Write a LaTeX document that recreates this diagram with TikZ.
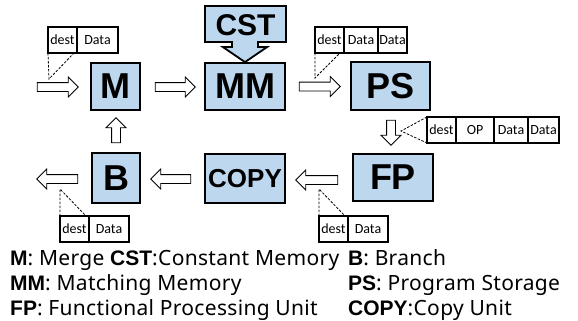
\documentclass[tikz,border=0pt]{standalone}
\usepackage{fontspec}
\setmainfont{Noto Sans}[LetterSpace=1.5]
\newfontfamily\unitfont{Liberation Sans}
\newfontfamily\cellfont{Carlito}
\usetikzlibrary{positioning,shapes.arrows}
\definecolor{unitblue}{RGB}{189,215,238}

\tikzset{
  unit/.style={draw, line width=1.8pt, fill=unitblue, inner sep=0pt,
    font=\unitfont\bfseries\fontsize{36}{36}\selectfont},
  cell/.style={draw, line width=1.1pt, fill=white, minimum height=26pt,
    inner sep=0pt, outer sep=0pt, font=\cellfont\fontsize{14}{14}\selectfont},
  flow/.style={single arrow, draw, line width=0.8pt, fill=white, inner sep=0pt,
    inner ysep=4pt, single arrow head extend=5.5pt},
  link/.style={dashed, line width=0.8pt, dash pattern=on 2.5pt off 1.5pt},
  legend/.style={anchor=base west, inner sep=0pt, font=\fontsize{21}{21}\selectfont}
}
\newcommand{\ab}[1]{{\unitfont\bfseries #1}}

\begin{document}
\begin{tikzpicture}[x=1pt, y=-1pt]
    \useasboundingbox (0,0) rectangle (578,321);

    % Units
    \node[unit, minimum width=49pt, minimum height=47pt] (m) at (115.5,86.5) {M};
    \node[unit, minimum width=80pt, minimum height=47pt] (mm) at (245,86.5) {MM};
    \node[unit, minimum width=79pt, minimum height=48pt] (ps) at (390.5,86) {PS};
    \node[unit, minimum width=80pt, minimum height=47pt] (fp) at (393,177.5) {FP};
    \node[unit, minimum width=80pt, minimum height=49pt,
      font=\unitfont\bfseries\fontsize{26}{26}\selectfont] (copy) at (245,178.5) {COPY};
    \node[unit, minimum width=48pt, minimum height=50pt] (b) at (116,178) {B};

    % Constant memory (callout into MM)
    \draw[line width=1.8pt, fill=unitblue] (mm.north) -- ++(22,-15) -- ++(-9,0)
      -- ++(0,-5) -- ++(28,0) -- ++(0,-36) -- ++(-81,0) -- ++(0,36) -- ++(27,0)
      -- ++(0,5) -- ++(-9,0) -- cycle;
    \node[font=\unitfont\bfseries\fontsize{30}{30}\selectfont] (cst) at (245.5,25) {CST};

    % Flow arrows
    \node[flow, minimum height=41pt] (fin) at (55.5,87) {};
    \node[flow, minimum height=40pt] (fmmm) at (173,87) {};
    \node[flow, minimum height=41pt] (fmmps) at (317.5,86.5) {};
    \node[flow, minimum height=25pt, rotate=-90] (fpsfp) at (391,130.5) {};
    \node[flow, minimum height=42pt, rotate=180] (ffpcopy) at (319,180) {};
    \node[flow, minimum height=40pt, rotate=180] (fcopyb) at (173,179) {};
    \node[flow, minimum height=25pt, rotate=90] (fbm) at (116,132.5) {};
    \node[flow, minimum height=41pt, rotate=180] (fout) at (59.5,179) {};

    % Packets
    \node[cell, minimum width=29pt, anchor=north west] (p1a) at (48,27) {dest};
    \node[cell, minimum width=41pt, right=0pt of p1a] (p1b) {Data};

    \node[cell, minimum width=29pt, anchor=north west] (p2a) at (315,27) {dest};
    \node[cell, minimum width=34pt, right=0pt of p2a] (p2b) {Data};
    \node[cell, minimum width=29pt, right=0pt of p2b] (p2c) {Data};

    \node[cell, minimum width=29pt, anchor=north west] (p3a) at (427,117) {dest};
    \node[cell, minimum width=38pt, right=0pt of p3a] (p3b) {OP};
    \node[cell, minimum width=34pt, right=0pt of p3b] (p3c) {Data};
    \node[cell, minimum width=31pt, right=0pt of p3c] (p3d) {Data};

    \node[cell, minimum width=29pt, anchor=north west] (p4a) at (319,216) {dest};
    \node[cell, minimum width=40pt, right=0pt of p4a] (p4b) {Data};

    \node[cell, minimum width=29pt, anchor=north west] (p5a) at (60,216) {dest};
    \node[cell, minimum width=40pt, right=0pt of p5a] (p5b) {Data};

    % Where each packet travels
    \coordinate (t1) at (49,79);
    \coordinate (t2) at (315,78);
    \coordinate (t3) at (401,131);
    \coordinate (t4) at (319,189);
    \coordinate (t5) at (60,189);
    \draw[link] (p1a.south west) -- (t1) -- ([xshift=-3pt]p1a.south east);
    \draw[link] (p2a.south west) -- (t2) -- ([xshift=-4pt]p2a.south east);
    \draw[link] (p3a.north west) -- (t3) -- (p3a.south west);
    \draw[link] (p4a.north west) -- (t4) -- ([xshift=-3pt]p4a.north east);
    \draw[link] (p5a.north west) -- (t5) -- ([xshift=-3pt]p5a.north east);

    % Legend
    \node[legend] (l1) at (10,265) {\ab{M}: Merge\ \ab{CST}:Constant Memory};
    \node[legend] (l2) at (348,265) {\ab{B}: Branch};
    \node[legend] (l3) at (10,290) {\ab{MM}: Matching Memory};
    \node[legend] (l4) at (348,290) {\ab{PS}: Program Storage};
    \node[legend] (l5) at (10,315) {\ab{FP}: Functional Processing Unit};
    \node[legend] (l6) at (348,315) {\ab{COPY}:Copy Unit};
\end{tikzpicture}
\end{document}
